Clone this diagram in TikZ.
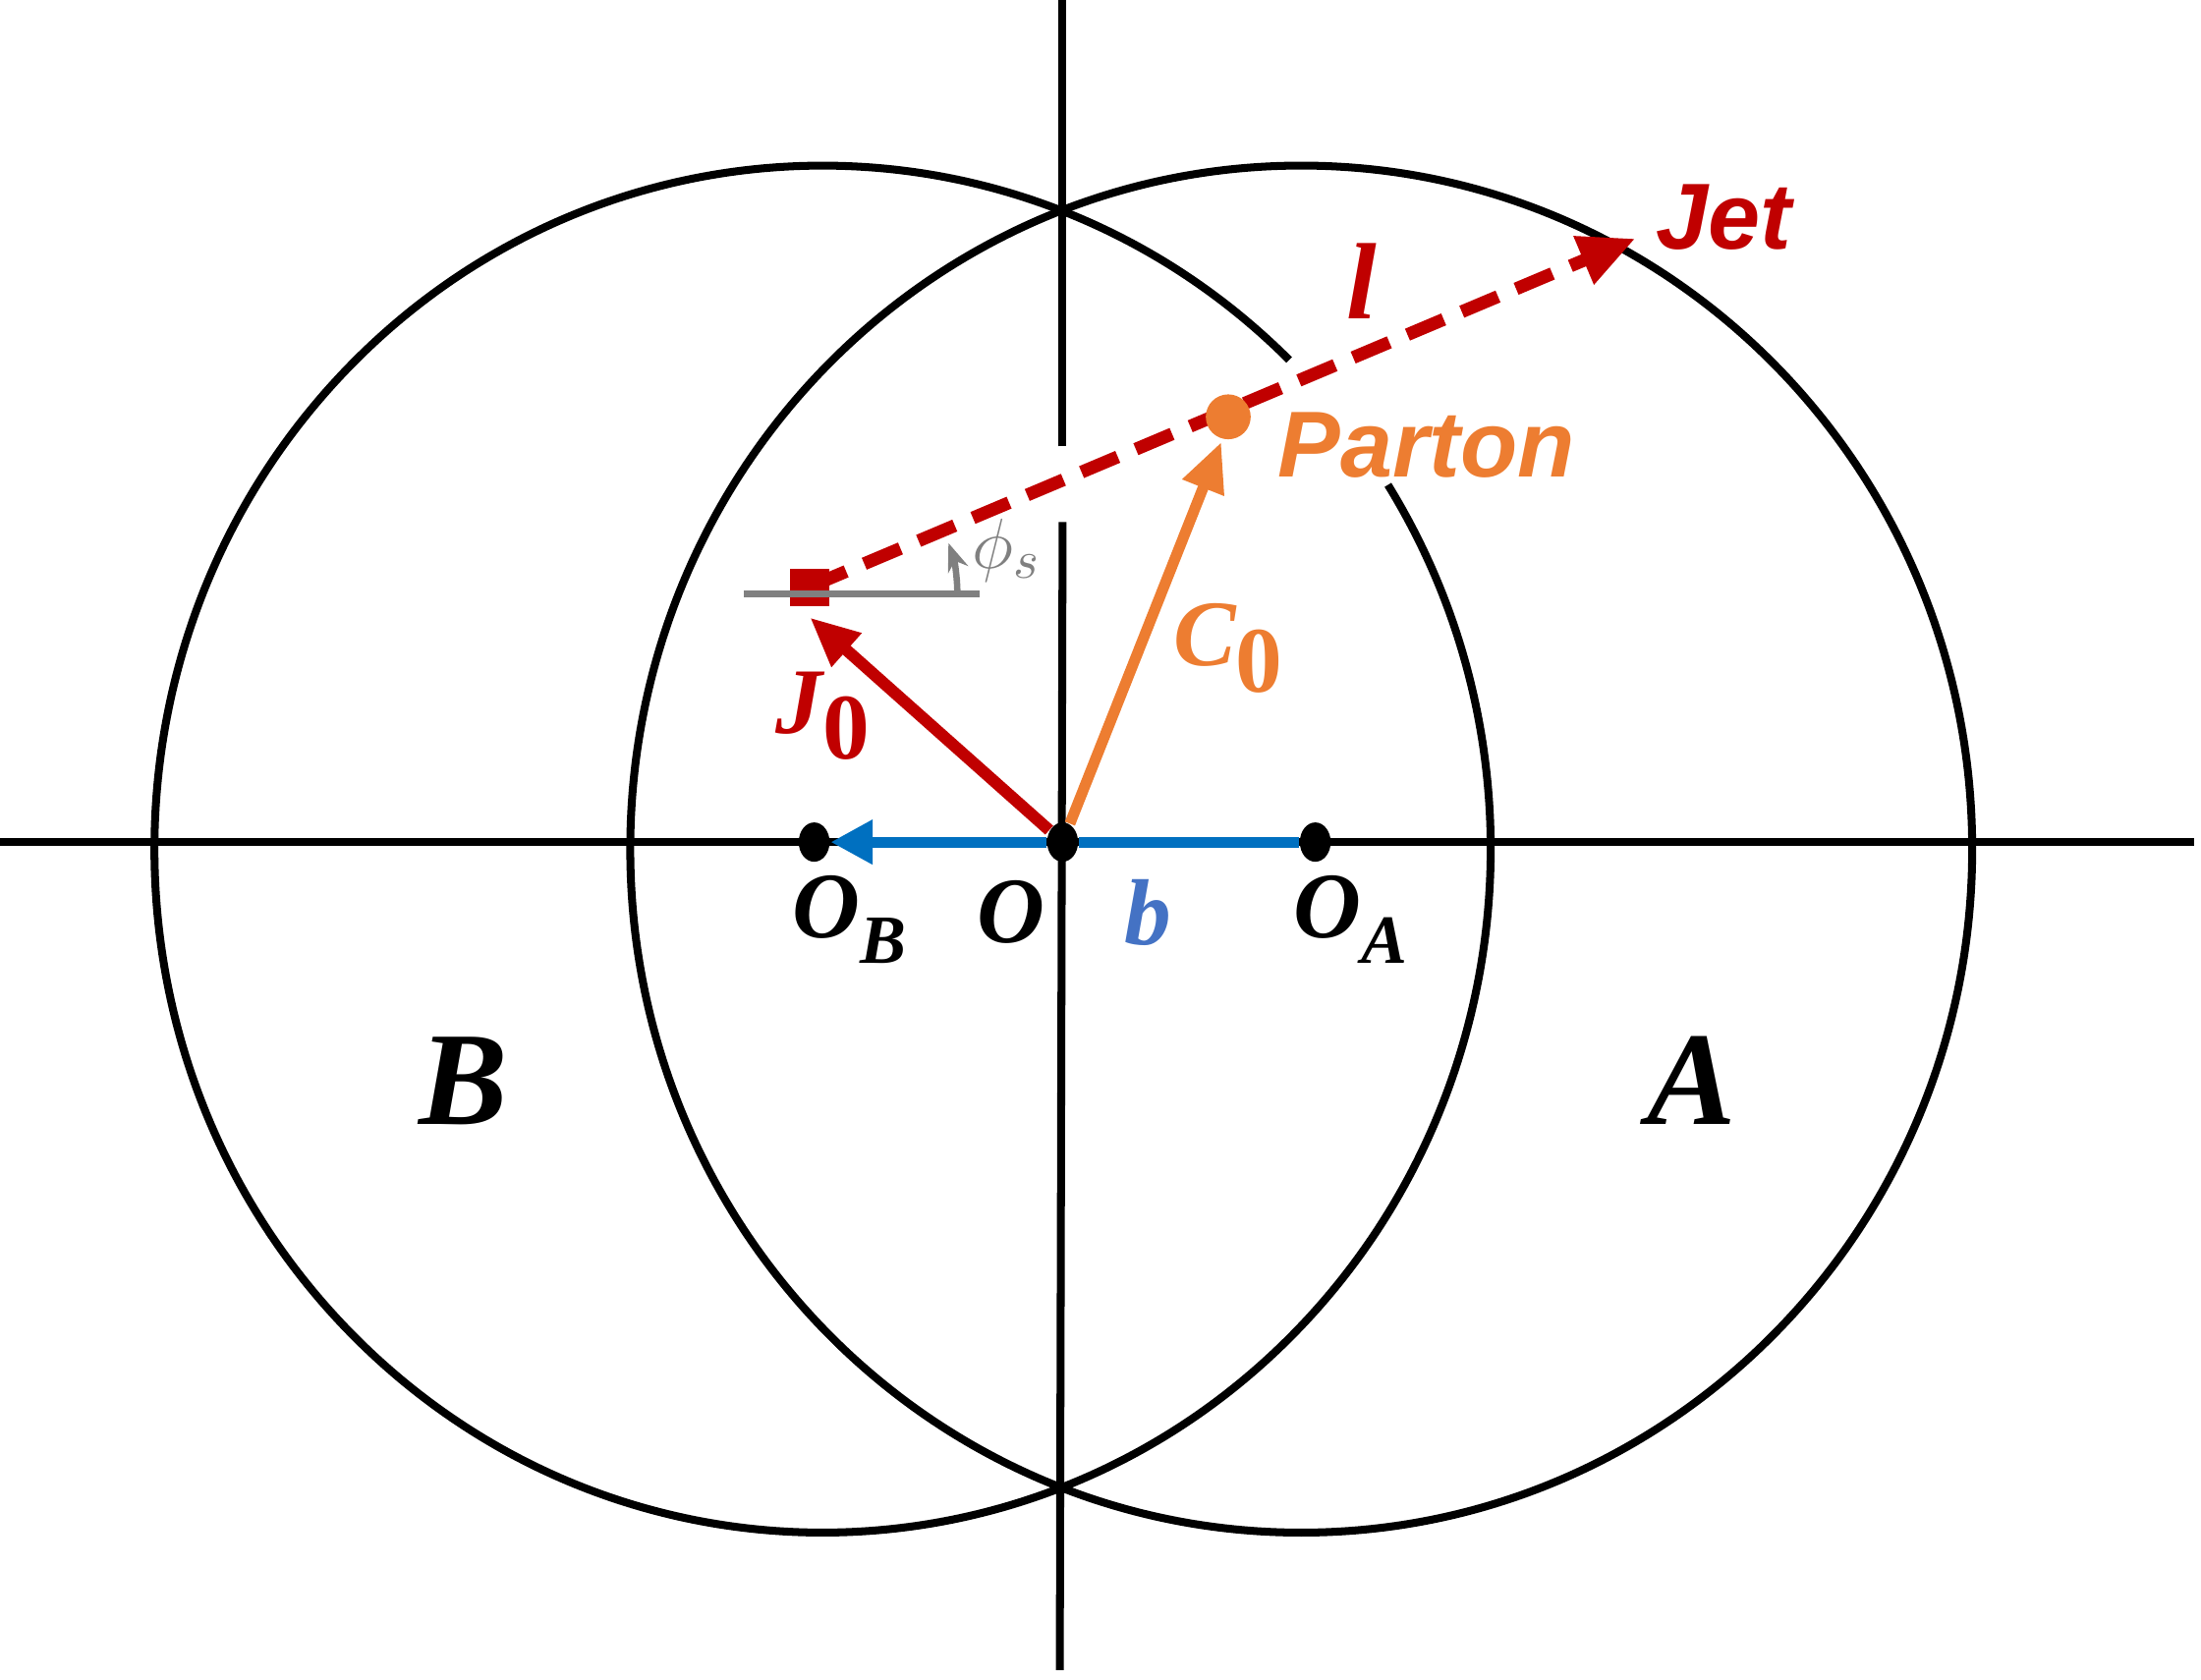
\documentclass[tikz,border=0pt]{standalone}
\usepackage{fontspec}
\setmainfont{Liberation Serif}
\newfontfamily\labfont{Liberation Sans}
\usetikzlibrary{arrows.meta,shapes.geometric}
\definecolor{jetred}{RGB}{192,0,0}
\definecolor{partonorange}{RGB}{237,125,49}
\definecolor{bblue}{RGB}{0,112,192}
\definecolor{lblue}{RGB}{68,114,196}
\tikzset{%
    ring/.style={line width=1.6pt,black},
    pt/.style={inner sep=0pt,ellipse,minimum width=2.2mm,minimum height=2.8mm,fill=black},
    lab/.style={font=\fontsize{19}{19}\selectfont\bfseries\itshape},
    sublab/.style={font=\fontsize{19}{19}\selectfont\bfseries\itshape\labfont},
    big/.style={font=\fontsize{27}{27}\selectfont\bfseries\itshape}
}
\begin{document}
\begin{tikzpicture}[x=0.1mm,y=0.1mm]
    \useasboundingbox (0,0) rectangle (1568,1197);
    % axes
    \draw[ring] (0,597) -- (1563,597);
    \draw[ring] (755,7) -- (757,825);
    \draw[ring] (757,879) -- (757,1197);
    % nuclei
    \draw[ring] (927,592) ellipse (478 and 487);
    \draw[ring] ([shift={(45.7:476 and 487)}]586,592) arc[start angle=45.7,end angle=392.2,x radius=476,y radius=487];
    % centres
    \node[pt] (ob) at (580,597){};
    \node[pt] (o) at (757,597){};
    \node[pt] (oa) at (937,597){};
    \node[inner sep=0pt,minimum size=6mm] (sq) at (577,779){};
    \coordinate (jet) at (1165,1027);
    \coordinate (jtip) at (577,757);
    % vectors
    \draw[line width=2.2pt,bblue,-{Triangle[length=3mm,width=3mm]}] (o) -- (ob);
    \draw[line width=2.2pt,bblue] (o) -- (oa);
    \draw[line width=2.4pt,jetred,-{Triangle[length=3.5mm,width=3mm]}] (o) -- (jtip);
    \draw[line width=2.2pt,partonorange,-{Triangle[length=3.5mm,width=3mm]}] (o) -- (870,882);
    \draw[line width=2.6pt,jetred,dash pattern=on 2.8mm off 1.4mm,-{Triangle[length=4mm,width=3.5mm]}] (577,779) -- (jet);
    \fill[jetred] (563,765) rectangle (591,792);
    \fill[partonorange] (875,900) circle (16);
    \node[inner sep=0pt,minimum size=3mm] (parton) at (875,900){};
    \draw[line width=1.4pt,gray] (530,774) -- (698,774);
    \draw[line width=1.3pt,gray,-{Stealth[length=2mm]}] (682,776) arc[start angle=1,end angle=20,radius=105];
    % labels
    \node[sublab,jetred] at (1228,1042) {Jet};
    \node[lab,jetred,font=\fontsize{22}{22}\selectfont\bfseries\itshape] at (970,997) {l};
    \node[sublab,partonorange,anchor=west] at (898,880) {Parton};
    \node[gray,font=\fontsize{15}{15}\selectfont] at (717,805) {$\phi_s$};
    \node[lab,partonorange] at (875,735) {C\raisebox{-0.6ex}{\upshape 0}};
    \node[lab,jetred] at (586,687) {J\raisebox{-0.6ex}{\upshape 0}};
    \node[lab,lblue] at (818,547) {b};
    \node[lab] at (605,542) {O\raisebox{-0.6ex}{\fontsize{14}{14}\selectfont B}};
    \node[lab] at (720,547) {O};
    \node[lab] at (962,542) {O\raisebox{-0.6ex}{\fontsize{14}{14}\selectfont A}};
    \node[big] at (330,427) {B};
    \node[big] at (1205,427) {A};
\end{tikzpicture}
\end{document}
